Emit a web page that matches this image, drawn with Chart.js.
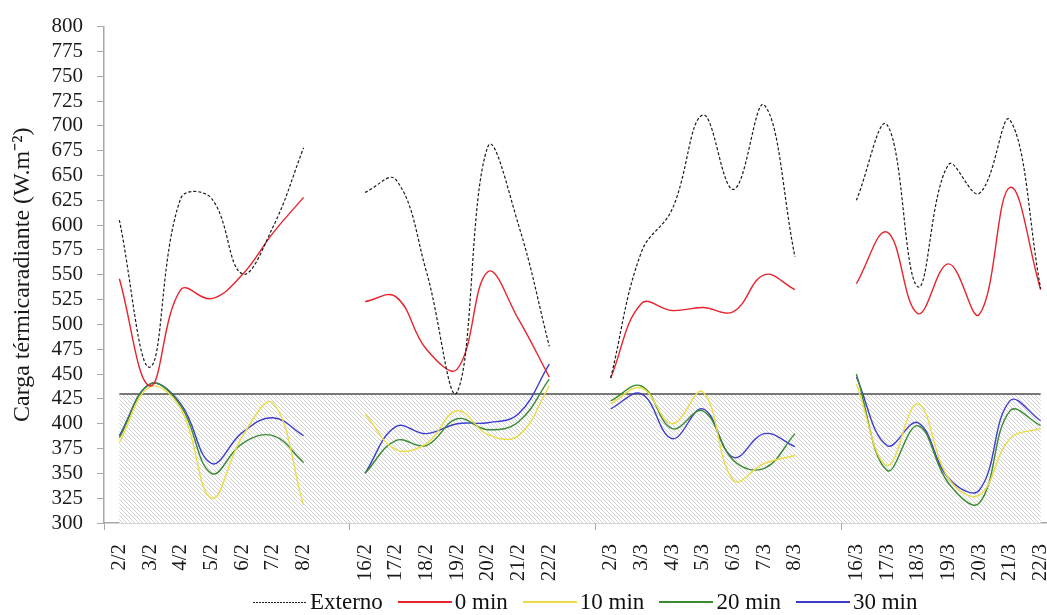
<!DOCTYPE html>
<html>
<head>
<meta charset="utf-8">
<script src="https://cdn.jsdelivr.net/npm/chart.js@4.4.1/dist/chart.umd.min.js"></script>
<style>
  body { margin: 0; background: #fff; overflow: hidden; }
  #wrap { position: relative; width: 1047px; height: 615px; overflow: hidden; }
  #chart { position: absolute; left: 0; top: 0; }
  #legend {
    position: absolute; left: 253px; top: 589px;
    display: flex; align-items: center;
    font-family: "Liberation Serif", "Times New Roman", serif; font-size: 23px; color: #111;
    white-space: nowrap;
  }
  .item { display: flex; align-items: center; margin-right: 15px; }
  .sample { display: inline-block; width: 54px; height: 1.5px; margin-right: 3px; }
</style>
</head>
<body>
<div id="wrap">
  <canvas id="chart" width="1056" height="615"></canvas>
  <div id="legend"></div>
</div>
<script>
// categories: four weeks, with an empty slot between them
const labels = [
  '2/2', '3/2', '4/2', '5/2', '6/2', '7/2', '8/2', '',
  '16/2', '17/2', '18/2', '19/2', '20/2', '21/2', '22/2', '',
  '2/3', '3/3', '4/3', '5/3', '6/3', '7/3', '8/3', '',
  '16/3', '17/3', '18/3', '19/3', '20/3', '21/3', '22/3'
];

const externo = [
  605, 457, 627, 627, 551, 598, 678, null,
  633, 646, 553, 432, 679, 600, 478, null,
  446, 573, 616, 711, 636, 721, 568, null,
  625, 701, 538, 661, 632, 706, 536
];
const min0 = [
  546, 438, 535, 526, 550, 592, 628, null,
  523, 528, 475, 455, 553, 505, 447, null,
  446, 521, 514, 517, 513, 550, 535, null,
  541, 593, 511, 561, 510, 638, 535
];
const min10 = [
  381, 437, 415, 325, 387, 421, 318, null,
  410, 374, 380, 413, 389, 388, 438, null,
  420, 436, 400, 432, 343, 360, 368, null,
  440, 358, 420, 345, 328, 385, 395
];
const min20 = [
  386, 440, 418, 350, 380, 388, 361, null,
  350, 383, 378, 405, 394, 402, 445, null,
  423, 438, 395, 413, 363, 355, 390, null,
  450, 353, 398, 340, 320, 413, 398
];
const min30 = [
  388, 440, 420, 360, 391, 406, 388, null,
  350, 397, 390, 400, 401, 410, 460, null,
  415, 430, 385, 415, 366, 390, 377, null,
  447, 378, 401, 345, 333, 423, 403
];

const limite = 430; // comfort limit, hatched area below it
const yTicks = { min: 300, max: 800, step: 25 };

const serif = '"Liberation Serif", "Times New Roman", serif';

function hatchPattern(ctx) {
  const c = document.createElement('canvas');
  c.width = 4; c.height = 4;
  const g = c.getContext('2d');
  g.fillStyle = '#fff';
  g.fillRect(0, 0, 4, 4);
  g.strokeStyle = '#d0d0d0';
  g.lineWidth = 1;
  g.beginPath();
  g.moveTo(-1, -1); g.lineTo(5, 5);
  g.moveTo(-1, 3); g.lineTo(1, 5);
  g.moveTo(3, -1); g.lineTo(5, 1);
  g.stroke();
  return ctx.createPattern(c, 'repeat');
}

// hatched band from 300 up to the limit, plus the limit line
const limitPlugin = {
  id: 'limitBand',
  beforeDatasetsDraw(chart) {
    const { ctx, scales: { x, y } } = chart;
    const x0 = x.getPixelForValue(0);
    const x1 = x.getPixelForValue(labels.length - 1);
    const yTop = y.getPixelForValue(limite);
    const yBot = y.getPixelForValue(yTicks.min);
    ctx.save();
    ctx.fillStyle = hatchPattern(ctx);
    ctx.fillRect(x0, yTop, x1 - x0, yBot - yTop);
    ctx.strokeStyle = '#777';
    ctx.lineWidth = 2;
    ctx.beginPath();
    ctx.moveTo(x0, yTop);
    ctx.lineTo(x1, yTop);
    ctx.stroke();
    ctx.restore();
  }
};

const lineDefaults = {
  borderWidth: 1.4,
  pointRadius: 0,
  tension: 0.4,
  spanGaps: false,
  fill: false
};

const datasets = [
  { label: 'Externo', data: externo, borderColor: '#1a1a1a', borderDash: [3, 2], borderWidth: 1.2 },
  { label: '0 min', data: min0, borderColor: '#e8232d' },
  { label: '10 min', data: min10, borderColor: '#ebdc45' },
  { label: '20 min', data: min20, borderColor: '#3a8a32' },
  { label: '30 min', data: min30, borderColor: '#3d3ccf' }
].map(d => Object.assign({}, lineDefaults, d));

new Chart(document.getElementById('chart'), {
  type: 'line',
  data: { labels: labels, datasets: datasets },
  plugins: [limitPlugin],
  options: {
    responsive: false,
    animation: false,
    layout: { padding: { top: 24, right: 0, bottom: 0, left: 0 } },
    plugins: {
      legend: { display: false },
      tooltip: { enabled: false }
    },
    scales: {
      x: {
        offset: true,
        afterFit: function(scale) {
          scale.height = 92;
          scale.paddingLeft = 0;
          scale.paddingRight = 0;
        },
        border: { color: '#a8a8a8', width: 1.5 },
        grid: {
          offset: true,
          drawOnChartArea: false,
          drawTicks: true,
          tickLength: 7,
          tickColor: function(ctx) {
            return ctx.index % 8 === 0 ? '#a8a8a8' : 'rgba(0,0,0,0)';
          }
        },
        ticks: {
          autoSkip: false,
          minRotation: 90,
          maxRotation: 90,
          padding: 14,
          color: '#1a1a1a',
          font: { family: serif, size: 21 }
        }
      },
      y: {
        min: yTicks.min,
        max: yTicks.max,
        afterFit: function(scale) { scale.width = 104; },
        border: { color: '#a8a8a8', width: 1.5 },
        grid: {
          drawOnChartArea: false,
          drawTicks: true,
          tickLength: 7,
          color: '#a8a8a8'
        },
        ticks: {
          stepSize: yTicks.step,
          autoSkip: false,
          padding: 14,
          color: '#1a1a1a',
          font: { family: serif, size: 21 }
        },
        title: {
          display: true,
          text: 'Carga térmicaradiante (W.m⁻²)',
          color: '#1a1a1a',
          padding: { top: 8, bottom: 0 },
          font: { family: serif, size: 24 }
        }
      }
    }
  }
});

// legend built from the same datasets
const legend = document.getElementById('legend');
datasets.forEach(function(d) {
  const item = document.createElement('span');
  item.className = 'item';
  const s = document.createElement('span');
  s.className = 'sample';
  if (d.borderDash) {
    s.style.height = '1px';
    s.style.background = 'repeating-linear-gradient(90deg, ' + d.borderColor + ' 0 2px, transparent 2px 3px)';
  } else {
    s.style.background = d.borderColor;
  }
  const t = document.createElement('span');
  t.textContent = d.label;
  item.appendChild(s);
  item.appendChild(t);
  legend.appendChild(item);
});
</script>
</body>
</html>
